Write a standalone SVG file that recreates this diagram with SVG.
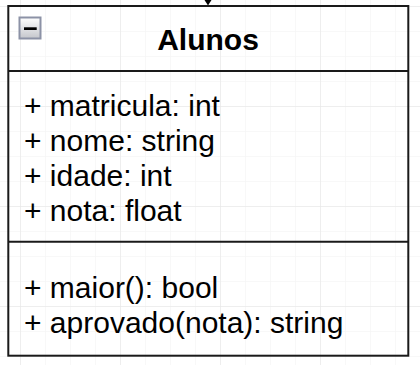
<svg xmlns="http://www.w3.org/2000/svg" width="420" height="365" viewBox="0 0 420 365">
  <defs>
    <pattern id="gridMinor" x="20" y="6" width="25" height="25" patternUnits="userSpaceOnUse">
      <path d="M0 0V25M0 0H25" fill="none" stroke="#f2f2f2" stroke-width="1"/>
    </pattern>
    <pattern id="gridMajor" x="20" y="6" width="100" height="100" patternUnits="userSpaceOnUse">
      <path d="M0 0V100M0 0H100" fill="none" stroke="#e3e3e3" stroke-width="1"/>
    </pattern>
    <linearGradient id="btnFill" x1="0" y1="0" x2="0" y2="1">
      <stop offset="0" stop-color="#ffffff"/>
      <stop offset="1" stop-color="#c4c6cc"/>
    </linearGradient>
  </defs>
  <style>
    .box { fill: none; stroke: #1a1a1a; stroke-width: 2; }
    .title { font-family: "Liberation Sans", Arial, sans-serif; font-size: 30px; font-weight: bold; fill: #000; }
    .member { font-family: "Liberation Sans", Arial, sans-serif; font-size: 30px; fill: #000; }
  </style>

  <!-- background grid -->
  <rect width="420" height="365" fill="#ffffff"/>
  <rect width="420" height="365" fill="url(#gridMinor)"/>
  <rect width="420" height="365" fill="url(#gridMajor)"/>

  <!-- incoming connector -->
  <g id="connectors">
    <path d="M208 0V2" stroke="#000" stroke-width="1.5" fill="none"/>
    <path d="M204.5 0L211.5 0L208 5.5Z" fill="#000"/>
  </g>

  <!-- class: Alunos -->
  <g id="alunos">
    <rect class="box" x="8.3" y="6" width="400" height="349.7"/>
    <line class="box" x1="8.3" y1="71" x2="408.3" y2="71"/>
    <line class="box" x1="8.3" y1="241.7" x2="408.3" y2="241.7"/>

    <!-- collapse button -->
    <rect x="19.5" y="17.5" width="21" height="21" fill="url(#btnFill)" stroke="#8c92a6" stroke-width="2"/>
    <rect x="24" y="27.3" width="12.7" height="2.7" fill="#000"/>

    <text class="title" x="208" y="50" text-anchor="middle">Alunos</text>

    <text class="member" x="24" y="116">+ matricula: int</text>
    <text class="member" x="24" y="151">+ nome: string</text>
    <text class="member" x="24" y="186">+ idade: int</text>
    <text class="member" x="24" y="221">+ nota: float</text>

    <text class="member" x="24" y="298">+ maior(): bool</text>
    <text class="member" x="24" y="333">+ aprovado(nota): string</text>
  </g>
</svg>
